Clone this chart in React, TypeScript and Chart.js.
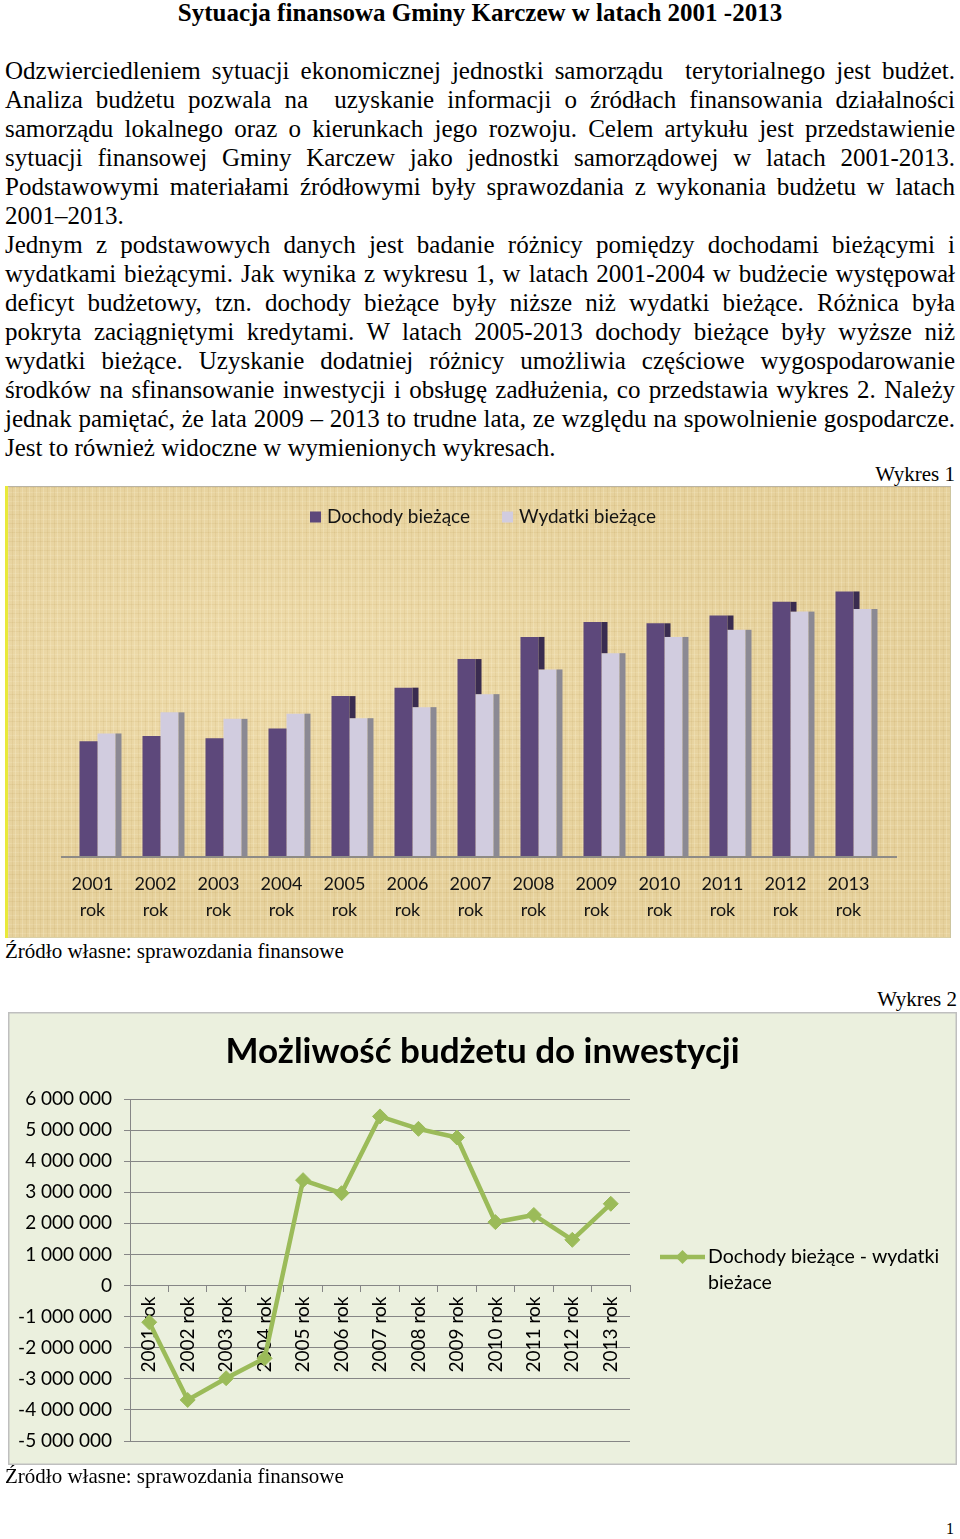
import React, { useEffect, useRef } from 'react';
import { Chart, registerables } from 'chart.js';

Chart.register(...registerables);

// ---------- DATA ----------
const years = ['2001', '2002', '2003', '2004', '2005', '2006', '2007', '2008', '2009', '2010', '2011', '2012', '2013'];
// Wykres 1 (mln zł)
const dochodyBiezace = [17.65, 18.46, 18.1, 19.6, 24.6, 25.9, 30.3, 33.7, 36.0, 35.8, 37.0, 39.1, 40.7];
const wydatkiBiezace = [18.85, 22.1, 21.1, 21.9, 21.2, 22.9, 24.9, 28.7, 31.2, 33.7, 34.8, 37.6, 38.0];
// Wykres 2 (zł)
const roznica = [-1180000, -3680000, -2980000, -2340000, 3390000, 2970000, 5440000, 5040000, 4760000, 2040000, 2270000, 1470000, 2630000];
const yMin2 = -5000000;
const yMax2 = 6000000;
const yStep2 = 1000000;

const seriesNames1 = ['Dochody bieżące', 'Wydatki bieżące'];
const seriesName2 = 'Dochody bieżące - wydatki bieżace';
const title2 = 'Możliwość budżetu do inwestycji';

const pageTitle = 'Sytuacja finansowa Gminy Karczew w latach 2001 -2013';
const bodyLines: [string, boolean][] = [
  ['Odzwierciedleniem sytuacji ekonomicznej jednostki samorządu\u00a0 terytorialnego jest budżet.', true],
  ['Analiza budżetu pozwala na\u00a0 uzyskanie informacji o źródłach finansowania działalności', true],
  ['samorządu lokalnego oraz o kierunkach jego rozwoju. Celem artykułu jest przedstawienie', true],
  ['sytuacji finansowej Gminy Karczew jako jednostki samorządowej w latach 2001-2013.', true],
  ['Podstawowymi materiałami źródłowymi były sprawozdania z wykonania budżetu w latach', true],
  ['2001–2013.', false],
  ['Jednym z podstawowych danych jest badanie różnicy pomiędzy dochodami bieżącymi i', true],
  ['wydatkami bieżącymi. Jak wynika z wykresu 1, w latach 2001-2004 w budżecie występował', true],
  ['deficyt budżetowy, tzn. dochody bieżące były niższe niż wydatki bieżące. Różnica była', true],
  ['pokryta zaciągniętymi kredytami. W latach 2005-2013 dochody bieżące były wyższe niż', true],
  ['wydatki bieżące. Uzyskanie dodatniej różnicy umożliwia częściowe wygospodarowanie', true],
  ['środków na sfinansowanie inwestycji i obsługę zadłużenia, co przedstawia wykres 2. Należy', true],
  ['jednak pamiętać, że lata 2009 – 2013 to trudne lata, ze względu na spowolnienie gospodarcze.', true],
  ['Jest to również widoczne w wymienionych wykresach.', false],
];
const source = 'Źródło własne: sprawozdania finansowe';

// ---------- helpers ----------
const fmtSpace = (v: number) => Math.round(v).toString().replace(/\B(?=(\d{3})+(?!\d))/g, ' ');

const sidePlugin = {
  id: 'sides',
  afterDatasetsDraw(chart: any, _a: any, o: any) {
    const ctx = chart.ctx;
    const m0 = chart.getDatasetMeta(0);
    const m1 = chart.getDatasetMeta(1);
    ctx.save();
    m0.data.forEach((bar: any, i: number) => {
      const b1: any = m1.data[i];
      const right = bar.x + bar.width / 2;
      if (bar.y < b1.y) {
        ctx.fillStyle = o.dark;
        ctx.fillRect(right, bar.y, o.depth, b1.y - bar.y);
      }
    });
    m1.data.forEach((bar: any) => {
      const right = bar.x + bar.width / 2;
      ctx.fillStyle = o.gray;
      ctx.fillRect(right, bar.y, o.depth, bar.base - bar.y);
    });
    const ca = chart.chartArea;
    ctx.strokeStyle = o.axis;
    ctx.lineWidth = 2;
    ctx.beginPath();
    ctx.moveTo(ca.left - o.extL, ca.bottom + 1);
    ctx.lineTo(ca.right + o.extR, ca.bottom + 1);
    ctx.stroke();
    ctx.restore();
  },
};

const boxLegend = {
  id: 'boxLegend',
  afterDraw(chart: any, _a: any, o: any) {
    const ctx = chart.ctx;
    ctx.save();
    ctx.font = o.font;
    const items = chart.data.datasets.map((ds: any) => ({
      text: ds.label,
      color: ds.backgroundColor,
      w: ctx.measureText(ds.label).width,
    }));
    const total = items.reduce((s: number, it: any) => s + o.box + o.gap + it.w, 0) + o.itemGap * (items.length - 1);
    let x = o.cx - total / 2;
    ctx.textBaseline = 'middle';
    ctx.textAlign = 'left';
    items.forEach((it: any) => {
      ctx.fillStyle = it.color;
      ctx.fillRect(x, o.cy - o.box / 2, o.box, o.box);
      x += o.box + o.gap;
      ctx.fillStyle = o.color;
      ctx.fillText(it.text, x, o.cy);
      x += it.w + o.itemGap;
    });
    ctx.restore();
  },
};

const lineLegend = {
  id: 'lineLegend',
  afterDraw(chart: any, _a: any, o: any) {
    const ds = chart.data.datasets[0];
    const ctx = chart.ctx;
    ctx.save();
    const x0 = chart.chartArea.right + o.offsetX;
    const y0 = o.y;
    ctx.strokeStyle = ds.borderColor;
    ctx.lineWidth = ds.borderWidth;
    ctx.beginPath();
    ctx.moveTo(x0, y0);
    ctx.lineTo(x0 + o.len, y0);
    ctx.stroke();
    const cx = x0 + o.len / 2;
    const r = o.r;
    ctx.fillStyle = ds.pointBackgroundColor;
    ctx.beginPath();
    ctx.moveTo(cx, y0 - r);
    ctx.lineTo(cx + r, y0);
    ctx.lineTo(cx, y0 + r);
    ctx.lineTo(cx - r, y0);
    ctx.closePath();
    ctx.fill();
    ctx.font = o.font;
    ctx.fillStyle = o.color;
    ctx.textBaseline = 'middle';
    ctx.textAlign = 'left';
    const words = String(ds.label).split(' ');
    const lines: string[] = [];
    let cur = '';
    words.forEach((w) => {
      const t = cur ? cur + ' ' + w : w;
      if (ctx.measureText(t).width > o.maxWidth && cur) {
        lines.push(cur);
        cur = w;
      } else cur = t;
    });
    if (cur) lines.push(cur);
    lines.forEach((l, i) => ctx.fillText(l, x0 + o.len + o.gap, y0 + i * o.lineHeight));
    ctx.restore();
  },
};

function BarChart() {
  const ref = useRef<HTMLCanvasElement>(null);
  useEffect(() => {
    const chart = new Chart(ref.current as HTMLCanvasElement, {
      type: 'bar',
      data: {
        labels: years.map((y) => [y, 'rok']),
        datasets: [
          { label: seriesNames1[0], data: dochodyBiezace, backgroundColor: '#5D487B', borderWidth: 0 },
          { label: seriesNames1[1], data: wydatkiBiezace, backgroundColor: '#D1CCDF', borderWidth: 0 },
        ],
      },
      options: {
        animation: false,
        responsive: false,
        events: [],
        layout: { padding: { left: 61, right: 66, top: 45, bottom: 0 } },
        datasets: { bar: { categoryPercentage: 36 / 63, barPercentage: 1 } },
        scales: {
          x: {
            grid: { display: false },
            border: { display: false },
            ticks: {
              font: { family: 'Lato', size: 18, lineHeight: 26 / 18 },
              color: '#141414',
              padding: 7,
              labelOffset: -5,
              maxRotation: 0,
              autoSkip: false,
            },
            afterFit: (s: any) => {
              s.height = 82;
            },
          },
          y: { display: false, min: 0, max: 50 },
        },
        plugins: {
          legend: { display: false },
          tooltip: { enabled: false },
          sides: { depth: 6, dark: '#3A2C50', gray: '#8B8993', axis: '#8E8B86', extL: 5, extR: 12 },
          boxLegend: { cx: 478, cy: 31, box: 11, gap: 6, itemGap: 32, font: '19px Lato', color: '#141414' },
        } as any,
      },
      plugins: [sidePlugin, boxLegend],
    });
    return () => chart.destroy();
  }, []);
  return <canvas ref={ref} width={946} height={452} style={{ position: 'absolute', left: 0, top: 0 }} />;
}

function LineChart() {
  const ref = useRef<HTMLCanvasElement>(null);
  useEffect(() => {
    const chart = new Chart(ref.current as HTMLCanvasElement, {
      type: 'line',
      data: {
        labels: years.map((y) => y + ' rok'),
        datasets: [
          {
            label: seriesName2,
            data: roznica,
            borderColor: '#9BBB59',
            backgroundColor: '#9BBB59',
            borderWidth: 4.5,
            pointStyle: 'rectRot',
            pointRadius: 7.5,
            pointBackgroundColor: '#9BBB59',
            pointBorderColor: '#9BBB59',
            pointBorderWidth: 1,
            tension: 0,
            yAxisID: 'y',
          },
        ],
      },
      options: {
        animation: false,
        responsive: false,
        events: [],
        layout: { padding: { left: 0, right: 0, top: 0, bottom: 24 } },
        scales: {
          x: {
            position: { y: 0 } as any,
            offset: true,
            grid: { drawOnChartArea: false, offset: true, tickLength: 6, color: '#868686' },
            border: { color: '#868686' },
            ticks: {
              minRotation: 90,
              maxRotation: 90,
              font: { family: 'Lato', size: 19 },
              color: '#000',
              padding: 5,
              autoSkip: false,
            },
            afterFit: (s: any) => {
              s.height = 0;
            },
          },
          y: {
            min: yMin2,
            max: yMax2,
            ticks: {
              stepSize: yStep2,
              font: { family: 'Lato', size: 19 },
              color: '#000',
              padding: 12,
              callback: (v: any) => fmtSpace(Number(v)),
            },
            grid: { color: '#868686', tickLength: 6 },
            border: { color: '#868686' },
            afterFit: (s: any) => {
              s.width = 122;
            },
          },
          yRight: {
            position: 'right',
            grid: { display: false },
            border: { display: false },
            ticks: { display: false },
            afterFit: (s: any) => {
              s.width = 327;
            },
          },
        },
        plugins: {
          legend: { display: false },
          tooltip: { enabled: false },
          title: {
            display: true,
            text: title2,
            font: { family: 'Lato', size: 35, weight: 'bold', lineHeight: 1.2 },
            color: '#000',
            padding: { top: 19, bottom: 26 },
          },
          lineLegend: { offsetX: 30, y: 245, len: 45, r: 7, gap: 3, font: '19.5px Lato', color: '#000', lineHeight: 26, maxWidth: 240 },
        } as any,
      },
      plugins: [lineLegend],
    });
    return () => chart.destroy();
  }, []);
  return <canvas ref={ref} width={949} height={453} style={{ position: 'absolute', left: 0, top: 0 }} />;
}

const serif = '"Liberation Serif", "Times New Roman", serif';

export default function App() {
  return (
    <div style={{ position: 'absolute', left: 0, top: 0, width: 960, height: 1539, background: '#fff', fontFamily: serif, color: '#000', overflow: 'hidden' }}>
      <div style={{ position: 'absolute', left: 0, top: -2, width: 960, textAlign: 'center', fontWeight: 'bold', fontSize: 25, lineHeight: '29px' }}>
        {pageTitle}
      </div>
      <div style={{ position: 'absolute', left: 5, top: 56, width: 950 }}>
        {bodyLines.map(([t, j], i) => (
          <div
            key={i}
            style={{
              height: 29,
              lineHeight: '29px',
              fontSize: 25,
              textAlign: j ? 'justify' : 'left',
              textAlignLast: j ? 'justify' : 'left',
            } as any}
          >
            {t}
          </div>
        ))}
      </div>
      <div style={{ position: 'absolute', right: 5, top: 462, fontSize: 21, lineHeight: '24px' }}>Wykres 1</div>
      <div
        style={{
          position: 'absolute',
          left: 5,
          top: 486,
          width: 946,
          height: 452,
          background:
            'repeating-linear-gradient(90deg, rgba(170,135,60,0.10) 0px 1px, rgba(0,0,0,0) 1px 3px, rgba(255,248,220,0.22) 3px 4px, rgba(0,0,0,0) 4px 7px), repeating-linear-gradient(0deg, rgba(170,135,60,0.10) 0px 1px, rgba(0,0,0,0) 1px 4px, rgba(255,248,220,0.15) 4px 5px, rgba(0,0,0,0) 5px 9px), radial-gradient(ellipse at 30% 40%, rgba(255,240,200,0.35), rgba(0,0,0,0) 60%), #E6D19C',
          boxShadow: 'inset 3px 0 0 #E9E93A, inset 0 1px 0 #B9B3A3, inset -1px 0 0 #CDC59F, inset 0 -1px 0 #D9CFA5',
        }}
      >
        <BarChart />
      </div>
      <div style={{ position: 'absolute', left: 5, top: 939, fontSize: 21, lineHeight: '24px' }}>{source}</div>
      <div style={{ position: 'absolute', right: 3, top: 987, fontSize: 21, lineHeight: '24px' }}>Wykres 2</div>
      <div
        style={{
          position: 'absolute',
          left: 8,
          top: 1012,
          width: 949,
          height: 453,
          background: '#EBF0DE',
          boxShadow: 'inset 0 0 0 1.5px #BFBFBF',
        }}
      >
        <LineChart />
      </div>
      <div style={{ position: 'absolute', left: 5, top: 1464, fontSize: 21, lineHeight: '24px' }}>{source}</div>
      <div style={{ position: 'absolute', left: 946, top: 1520, fontSize: 16, lineHeight: '18px' }}>1</div>
    </div>
  );
}
